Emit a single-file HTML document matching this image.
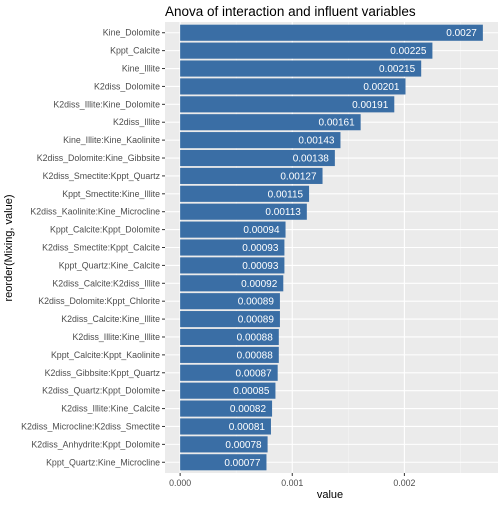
<!DOCTYPE html>
<html><head><meta charset="utf-8"><style>
body{margin:0;background:#fff;font-family:"Liberation Sans",Arial,sans-serif}
</style></head><body>
<svg id="c" width="504" height="504" xmlns="http://www.w3.org/2000/svg">
<rect width="504" height="504" fill="#fff"/>
<text x="165" y="16" font-size="13.5" fill="#000">Anova of interaction and influent variables</text>
<rect id="panel" x="165" y="22" width="333" height="451" fill="#ebebeb"/>
<g id="grid"></g><g id="bars"></g><g id="axes"></g>
<text x="330" y="498" font-size="11" text-anchor="middle" fill="#000">value</text>
<text transform="translate(12,248) rotate(-90)" font-size="11" text-anchor="middle" fill="#000">reorder(Mixing, value)</text>
</svg>
<script>
const categories=["Kine_Dolomite","Kppt_Calcite","Kine_Illite","K2diss_Dolomite","K2diss_Illite:Kine_Dolomite","K2diss_Illite","Kine_Illite:Kine_Kaolinite","K2diss_Dolomite:Kine_Gibbsite","K2diss_Smectite:Kppt_Quartz","Kppt_Smectite:Kine_Illite","K2diss_Kaolinite:Kine_Microcline","Kppt_Calcite:Kppt_Dolomite","K2diss_Smectite:Kppt_Calcite","Kppt_Quartz:Kine_Calcite","K2diss_Calcite:K2diss_Illite","K2diss_Dolomite:Kppt_Chlorite","K2diss_Calcite:Kine_Illite","K2diss_Illite:Kine_Illite","Kppt_Calcite:Kppt_Kaolinite","K2diss_Gibbsite:Kppt_Quartz","K2diss_Quartz:Kppt_Dolomite","K2diss_Illite:Kine_Calcite","K2diss_Microcline:K2diss_Smectite","K2diss_Anhydrite:Kppt_Dolomite","Kppt_Quartz:Kine_Microcline"];
const values=[0.0027,0.00225,0.00215,0.00201,0.00191,0.00161,0.00143,0.00138,0.00127,0.00115,0.00113,0.00094,0.00093,0.00093,0.00092,0.00089,0.00089,0.00088,0.00088,0.00087,0.00085,0.00082,0.00081,0.00078,0.00077];
const labels=["0.0027","0.00225","0.00215","0.00201","0.00191","0.00161","0.00143","0.00138","0.00127","0.00115","0.00113","0.00094","0.00093","0.00093","0.00092","0.00089","0.00089","0.00088","0.00088","0.00087","0.00085","0.00082","0.00081","0.00078","0.00077"];
const xTicks=[0,0.001,0.002];
const xTickLabels=["0.000","0.001","0.002"];
const NS="http://www.w3.org/2000/svg";
const L=165,R=498,T=22,B=473;
const maxV=Math.max(...values);
const x0=-maxV*0.05,x1=maxV*1.05;
const X=v=>L+(v-x0)/(x1-x0)*(R-L);
const n=categories.length;
const unit=(B-T)/(n-1+1.2);
const Y=i=>T+(0.6+i)*unit;
function mk(t,a,p){const e=document.createElementNS(NS,t);for(const k in a)e.setAttribute(k,a[k]);p.appendChild(e);return e;}
const grid=document.getElementById('grid'),bars=document.getElementById('bars'),axes=document.getElementById('axes');
for(let k=0;k<xTicks.length;k++){
 const m=xTicks[k]+0.0005;
 if(m<x1){const g=mk('line',{x1:X(m),x2:X(m),y1:T,y2:B,stroke:'#f5f5f5','stroke-width':0.6},grid);
 
 }
 const gl=mk('line',{x1:X(xTicks[k]),x2:X(xTicks[k]),y1:T,y2:B,stroke:'#fff','stroke-width':1.1},grid);
 
 
 const tk=mk('line',{x1:X(xTicks[k]),x2:X(xTicks[k]),y1:B,y2:B+3,stroke:'#333','stroke-width':1},axes);
 
 
 const tl=mk('text',{x:X(xTicks[k]),y:B+13,'font-size':8.8,'text-anchor':'middle',fill:'#4d4d4d'},axes);
 tl.textContent=xTickLabels[k];
 
 
}
for(let i=0;i<n;i++){
 const y=Y(i);
 const hl=mk('line',{x1:L,x2:R,y1:y,y2:y,stroke:'#fff','stroke-width':1.1},grid);
 
 
 const bh=unit*0.9;
 const r=mk('rect',{x:X(0),y:y-bh/2,width:X(values[i])-X(0),height:bh,fill:'#3a6ea5'},bars);
 
 
 const vt=mk('text',{x:X(values[i])-6,y:y+3.5,'font-size':10,'text-anchor':'end',fill:'#fff'},bars);
 vt.textContent=labels[i];
 
 
 const tk=mk('line',{x1:L-3,x2:L,y1:y,y2:y,stroke:'#333','stroke-width':1},axes);
 
 
 const tl=mk('text',{x:L-5,y:y+3,'font-size':8.8,'text-anchor':'end',fill:'#4d4d4d'},axes);
 tl.textContent=categories[i];
 
 
}
</script>
</body></html>
